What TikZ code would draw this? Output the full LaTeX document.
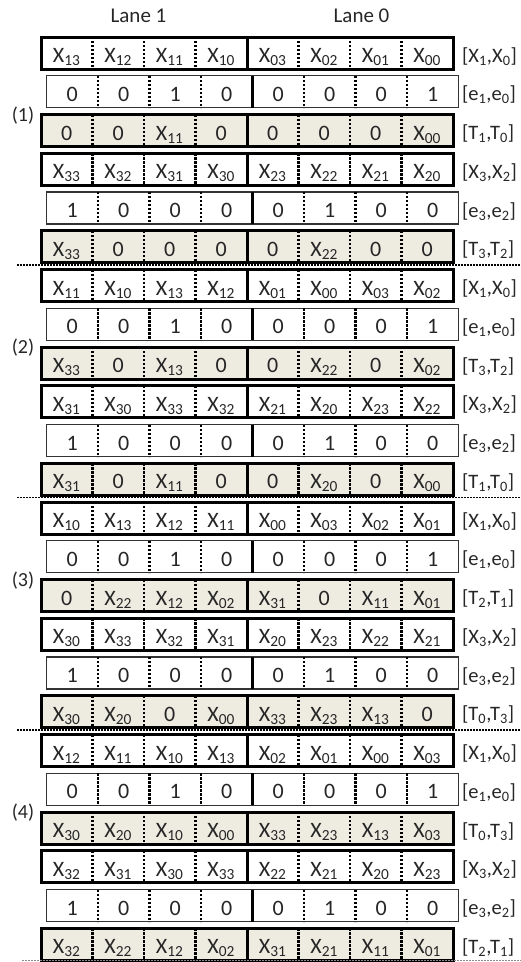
\documentclass[tikz,border=0pt]{standalone}
\usepackage{fontspec}
\setmainfont{Carlito}
\usepackage{xcolor}
\usetikzlibrary{calc}

\definecolor{tanfill}{HTML}{EEECE1}
\definecolor{inkgray}{HTML}{262626}

\newcommand{\xv}[1]{X\textsubscript{#1}}
\newcommand{\ev}[1]{e\textsubscript{#1}}
\newcommand{\tv}[1]{T\textsubscript{#1}}

% one register row: #1 index, #2 style, #3 left edge, #4 the eight cells, #5 label
\newcommand{\laneRow}[5]{%
  \pgfmathsetmacro{\rowtop}{37+38.75*#1}
  \node[#2] (row#1) at (#3,\rowtop) {};
  \foreach \cellval [count=\i from 0] in {#4}
    \node[celltext] (cell#1-\i) at ($(row#1.north west)+({(\i+0.5)*51.5},25.5)$) {\cellval};
  \foreach \k in {1,2,3,5,6,7}
    \draw[divdot] ($(row#1.north west)+(\k*51.5,0)$) -- ($(row#1.south west)+(\k*51.5,0)$);
  \draw[divmid] ($(row#1.north west)+(4*51.5,0)$) -- ($(row#1.south west)+(4*51.5,0)$);
  \node[rowlabel] (lab#1) at (462,{\rowtop+25}) {#5};
}

\begin{document}
\begin{tikzpicture}[x=1pt, y=-1pt,
    regbox/.style={rectangle, draw=black, line width=3pt, anchor=north west, minimum width=412pt, minimum height=32pt, inner sep=0pt, outer sep=0pt},
    xrow/.style={regbox, fill=white},
    erow/.style={regbox, draw=black!80, line width=1.3pt, fill=white},
    trow/.style={regbox, fill=tanfill},
    celltext/.style={anchor=base, inner sep=0pt, text=inkgray, font=\fontsize{22}{26}\selectfont},
    rowlabel/.style={anchor=base west, inner sep=0pt, text=inkgray, font=\fontsize{20.5}{24}\selectfont},
    grouplabel/.style={anchor=base, inner sep=0pt, text=inkgray, font=\fontsize{20}{24}\selectfont},
    lanehead/.style={anchor=base, inner sep=0pt, text=inkgray, font=\fontsize{21}{25}\selectfont},
    divdot/.style={line width=2.4pt, dash pattern=on 2.4pt off 1.6pt},
    divmid/.style={line width=3pt},
    groupsep/.style={line width=1.8pt, dash pattern=on 1.8pt off 1.2pt}
  ]
  \useasboundingbox (0,0) rectangle (521,962);

  \node[lanehead] (lane1) at (138.5,22.7) {Lane 1};
  \node[lanehead] (lane0) at (361.5,22.7) {Lane 0};

  % group (1)
  \laneRow{0}{xrow}{41}{\xv{13},\xv{12},\xv{11},\xv{10},\xv{03},\xv{02},\xv{01},\xv{00}}{[\xv{1},\xv{0}]}
  \laneRow{1}{erow}{46.5}{0,0,1,0,0,0,0,1}{[\ev{1},\ev{0}]}
  \laneRow{2}{trow}{41}{0,0,\xv{11},0,0,0,0,\xv{00}}{[\tv{1},\tv{0}]}
  \laneRow{3}{xrow}{41}{\xv{33},\xv{32},\xv{31},\xv{30},\xv{23},\xv{22},\xv{21},\xv{20}}{[\xv{3},\xv{2}]}
  \laneRow{4}{erow}{46.5}{1,0,0,0,0,1,0,0}{[\ev{3},\ev{2}]}
  \laneRow{5}{trow}{41}{\xv{33},0,0,0,0,\xv{22},0,0}{[\tv{3},\tv{2}]}

  % group (2)
  \laneRow{6}{xrow}{41}{\xv{11},\xv{10},\xv{13},\xv{12},\xv{01},\xv{00},\xv{03},\xv{02}}{[\xv{1},\xv{0}]}
  \laneRow{7}{erow}{46.5}{0,0,1,0,0,0,0,1}{[\ev{1},\ev{0}]}
  \laneRow{8}{trow}{41}{\xv{33},0,\xv{13},0,0,\xv{22},0,\xv{02}}{[\tv{3},\tv{2}]}
  \laneRow{9}{xrow}{41}{\xv{31},\xv{30},\xv{33},\xv{32},\xv{21},\xv{20},\xv{23},\xv{22}}{[\xv{3},\xv{2}]}
  \laneRow{10}{erow}{46.5}{1,0,0,0,0,1,0,0}{[\ev{3},\ev{2}]}
  \laneRow{11}{trow}{41}{\xv{31},0,\xv{11},0,0,\xv{20},0,\xv{00}}{[\tv{1},\tv{0}]}

  % group (3)
  \laneRow{12}{xrow}{41}{\xv{10},\xv{13},\xv{12},\xv{11},\xv{00},\xv{03},\xv{02},\xv{01}}{[\xv{1},\xv{0}]}
  \laneRow{13}{erow}{46.5}{0,0,1,0,0,0,0,1}{[\ev{1},\ev{0}]}
  \laneRow{14}{trow}{41}{0,\xv{22},\xv{12},\xv{02},\xv{31},0,\xv{11},\xv{01}}{[\tv{2},\tv{1}]}
  \laneRow{15}{xrow}{41}{\xv{30},\xv{33},\xv{32},\xv{31},\xv{20},\xv{23},\xv{22},\xv{21}}{[\xv{3},\xv{2}]}
  \laneRow{16}{erow}{46.5}{1,0,0,0,0,1,0,0}{[\ev{3},\ev{2}]}
  \laneRow{17}{trow}{41}{\xv{30},\xv{20},0,\xv{00},\xv{33},\xv{23},\xv{13},0}{[\tv{0},\tv{3}]}

  % group (4)
  \laneRow{18}{xrow}{41}{\xv{12},\xv{11},\xv{10},\xv{13},\xv{02},\xv{01},\xv{00},\xv{03}}{[\xv{1},\xv{0}]}
  \laneRow{19}{erow}{46.5}{0,0,1,0,0,0,0,1}{[\ev{1},\ev{0}]}
  \laneRow{20}{trow}{41}{\xv{30},\xv{20},\xv{10},\xv{00},\xv{33},\xv{23},\xv{13},\xv{03}}{[\tv{0},\tv{3}]}
  \laneRow{21}{xrow}{41}{\xv{32},\xv{31},\xv{30},\xv{33},\xv{22},\xv{21},\xv{20},\xv{23}}{[\xv{3},\xv{2}]}
  \laneRow{22}{erow}{46.5}{1,0,0,0,0,1,0,0}{[\ev{3},\ev{2}]}
  \laneRow{23}{trow}{41}{\xv{32},\xv{22},\xv{12},\xv{02},\xv{31},\xv{21},\xv{11},\xv{01}}{[\tv{2},\tv{1}]}

  % step numbers and separators
  \foreach \g in {1,...,4}
    \node[grouplabel] (step\g) at (23,{37+232.5*(\g-1)+84}) {(\g)};
  \foreach \g in {1,2,3}
    \draw[groupsep] (17,{37+232.5*\g-4.5}) -- (521,{37+232.5*\g-4.5});
  \draw[groupsep, draw=black!45, line width=1pt] (22,960.5) -- (521,960.5);
\end{tikzpicture}
\end{document}
